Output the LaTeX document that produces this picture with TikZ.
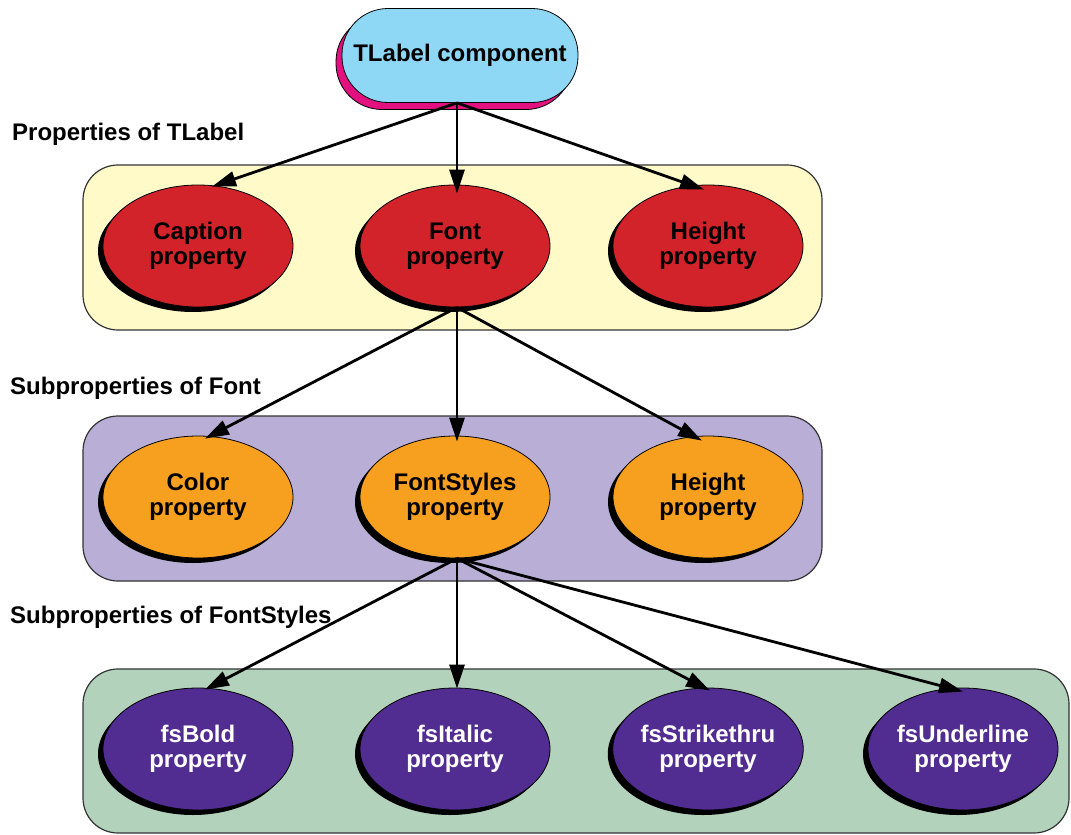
\documentclass[tikz,border=0pt]{standalone}
\usepackage{fontspec}
\setmainfont{Liberation Sans}
\usetikzlibrary{shapes.geometric,shadows,arrows.meta}
\definecolor{pillblue}{HTML}{8ED8F6}
\definecolor{pillmag}{HTML}{E2117F}
\definecolor{boxyellow}{HTML}{FFFAC8}
\definecolor{boxpurple}{HTML}{B9AED5}
\definecolor{boxgreen}{HTML}{B3D2BC}
\definecolor{propred}{HTML}{D2232A}
\definecolor{proporange}{HTML}{F79F1E}
\definecolor{propviolet}{HTML}{522D91}
\begin{document}
\begin{tikzpicture}[x=1pt,y=-1pt,
  font=\fontsize{24}{25}\selectfont\bfseries,
  groupbox/.style={draw=black!80, line width=1.2pt, rounded corners=35pt, inner sep=0pt},
  prop/.style={ellipse, draw=black, line width=0.8pt, minimum width=190pt, minimum height=122pt,
    inner sep=0pt, align=center, general shadow={fill=black, shadow xshift=-5pt, shadow yshift=-5pt}},
  redprop/.style={prop, fill=propred, text=black},
  orangeprop/.style={prop, fill=proporange, text=black},
  violetprop/.style={prop, fill=propviolet, text=white},
  heading/.style={anchor=west, inner sep=0pt},
  conn/.style={line width=2.8pt, -{Triangle[length=24pt,width=15pt]}}
]
\useasboundingbox (0,0) rectangle (1071,835);

% group boxes
\node[groupbox, fill=boxyellow, minimum width=739pt, minimum height=165pt] (gy) at (452.5,247.5) {};
\node[groupbox, fill=boxpurple, minimum width=739pt, minimum height=165pt] (gp) at (452.5,498.5) {};
\node[groupbox, fill=boxgreen, minimum width=986pt, minimum height=164pt] (gg) at (576,751) {};

% headings
\node[heading] (h1) at (12,134) {Properties of TLabel};
\node[heading] (h2) at (10,388) {Subproperties of Font};
\node[heading] (h3) at (10,617) {Subproperties of FontStyles};

% top pill
\node[draw=black, line width=0.8pt, fill=pillblue, rounded corners=46pt, minimum width=236pt, minimum height=94pt,
  inner sep=0pt, general shadow={fill=pillmag, draw=black, line width=0.8pt, shadow xshift=-6pt, shadow yshift=-7pt}]
  (tl) at (460,55.5) {TLabel component};

% row 1
\node[redprop] (cap) at (198,246) {Caption\\property};
\node[redprop] (fnt) at (455,246) {Font\\property};
\node[redprop] (hgt) at (708,246) {Height\\property};

% row 2
\node[orangeprop] (col) at (198,497) {Color\\property};
\node[orangeprop] (fst) at (455,497) {FontStyles\\property};
\node[orangeprop] (hgt2) at (708,497) {Height\\property};

% row 3
\node[violetprop] (bold) at (198,749) {fsBold\\property};
\node[violetprop] (ital) at (455,749) {fsItalic\\property};
\node[violetprop] (strk) at (708,749) {fsStrikethru\\property};
\node[violetprop] (undl) at (963,749) {fsUnderline\\property};

% connectors
\coordinate (s0) at ([xshift=-3pt]tl.south);
\draw[conn] (s0) -- ([shift={(14,2)}]cap.north);
\draw[conn] (s0) -- ([shift={(2,9)}]fnt.north);
\draw[conn] (s0) -- ([shift={(-4,5)}]hgt.north);

\coordinate (s1) at ([xshift=2pt]fnt.south);
\draw[conn] (s1) -- ([shift={(7,3)}]col.north);
\draw[conn] (s1) -- ([shift={(2,6)}]fst.north);
\draw[conn] (s1) -- ([shift={(-6,5)}]hgt2.north);

\coordinate (s2) at ([xshift=2pt]fst.south);
\draw[conn] (s2) -- ([shift={(7,2)}]bold.north);
\draw[conn] (s2) -- ([shift={(2,1)}]ital.north);
\draw[conn] (s2) -- ([shift={(2,3)}]strk.north);
\draw[conn] (s2) -- ([shift={(0,4)}]undl.north);
\end{tikzpicture}
\end{document}
